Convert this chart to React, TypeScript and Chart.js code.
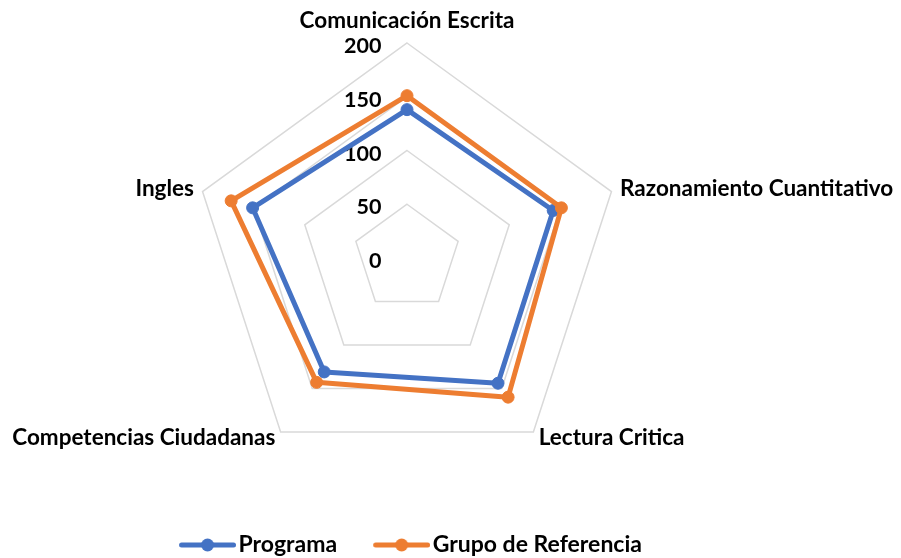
import React, { useEffect, useRef } from 'react';
import { Chart, registerables } from 'chart.js';

Chart.register(...registerables);

// ---- Data ----
const CATEGORIES = [
  'Comunicación Escrita',
  'Razonamiento Cuantitativo',
  'Lectura Critica',
  'Competencias Ciudadanas',
  'Ingles',
];
const PROGRAMA = [138, 143, 144, 131, 151];
const GRUPO_REFERENCIA = [151, 151, 160, 143, 172];
const SERIES_NAMES = ['Programa', 'Grupo de Referencia'];
const SCALE_MIN = 0;
const SCALE_MAX = 200;
const SCALE_STEP = 50;

// ---- Styles ----
const BLUE = '#4472C4';
const ORANGE = '#ED7D31';
const GRID = '#D9D9D9';
const FONT_FAMILY = "Lato, 'Open Sans', sans-serif";
const LABEL_SIZE = 22.5;
const TICK_SIZE = 21.5;
const LEGEND_SIZE = 23;

function makeLegendImage(color: string): HTMLCanvasElement {
  const c = document.createElement('canvas');
  c.width = 73;
  c.height = 16;
  const ctx = c.getContext('2d')!;
  ctx.strokeStyle = color;
  ctx.lineWidth = 5;
  ctx.lineCap = 'round';
  ctx.beginPath();
  ctx.moveTo(18.5, 8);
  ctx.lineTo(70.5, 8);
  ctx.stroke();
  ctx.fillStyle = color;
  ctx.beginPath();
  ctx.arc(44.5, 8, 6.5, 0, Math.PI * 2);
  ctx.fill();
  return c;
}

const excelLabels = {
  id: 'excelLabels',
  beforeDatasetsDraw(chart: any) {
    const scale = chart.scales.r;
    const ctx = chart.ctx as CanvasRenderingContext2D;
    ctx.save();
    ctx.fillStyle = '#000000';
    ctx.textBaseline = 'alphabetic';
    ctx.font = `bold ${TICK_SIZE}px ${FONT_FAMILY}`;
    ctx.textAlign = 'right';
    scale.ticks.forEach((t: any) => {
      const r = scale.getDistanceFromCenterForValue(t.value);
      ctx.fillText(String(t.label), scale.xCenter - 25.5, scale.yCenter - r + 10);
    });
    ctx.font = `bold ${LABEL_SIZE}px ${FONT_FAMILY}`;
    const n = CATEGORIES.length;
    CATEGORIES.forEach((label, i) => {
      const pos = scale.getPointPosition(i, scale.drawingArea + 9);
      const deg = ((i * 360) / n) % 360;
      let align: CanvasTextAlign;
      let dy: number;
      if (deg === 0) {
        align = 'center';
        dy = -6;
      } else if (deg === 180) {
        align = 'center';
        dy = 20;
      } else {
        align = deg < 180 ? 'left' : 'right';
        dy = deg < 90 || deg > 270 ? 7.5 : 5.5;
      }
      ctx.textAlign = align;
      ctx.fillText(label, pos.x, pos.y + dy);
    });
    ctx.restore();
  },
};

export default function App() {
  const ref = useRef<HTMLCanvasElement>(null);

  useEffect(() => {
    const legendImages = [makeLegendImage(BLUE), makeLegendImage(ORANGE)];
    const chart = new Chart(ref.current!, {
      type: 'radar',
      data: {
        labels: CATEGORIES,
        datasets: [
          {
            label: SERIES_NAMES[0],
            data: PROGRAMA,
            borderColor: BLUE,
            backgroundColor: BLUE,
            pointBackgroundColor: BLUE,
            pointBorderColor: BLUE,
            borderWidth: 5,
            pointRadius: 6,
            pointBorderWidth: 1,
            borderJoinStyle: 'round',
            fill: false,
            order: 1,
          },
          {
            label: SERIES_NAMES[1],
            data: GRUPO_REFERENCIA,
            borderColor: ORANGE,
            backgroundColor: ORANGE,
            pointBackgroundColor: ORANGE,
            pointBorderColor: ORANGE,
            borderWidth: 5,
            pointRadius: 6,
            pointBorderWidth: 1,
            borderJoinStyle: 'round',
            fill: false,
            order: 0,
          },
        ],
      },
      options: {
        responsive: true,
        maintainAspectRatio: false,
        animation: false,
        layout: { padding: { top: 43, left: 0, right: 87, bottom: -8.5 } },
        scales: {
          r: {
            min: SCALE_MIN,
            max: SCALE_MAX,
            ticks: { display: false, stepSize: SCALE_STEP },
            grid: { color: GRID, lineWidth: 1.5 },
            angleLines: { display: false },
            pointLabels: { display: false },
          },
        },
        elements: { line: { tension: 0 } },
        plugins: {
          tooltip: { enabled: false },
          legend: {
            position: 'bottom',
            title: {
              display: true,
              text: ' ',
              padding: { top: 10, bottom: 9.5 },
              font: { size: 10 },
            },
            labels: {
              usePointStyle: true,
              pointStyleWidth: 55,
              padding: 29,
              color: '#000000',
              font: { family: FONT_FAMILY, size: LEGEND_SIZE, weight: 'bold' },
              sort: (a: any, b: any) => a.datasetIndex - b.datasetIndex,
              generateLabels: (ch: any) => {
                const items = (Chart as any).defaults.plugins.legend.labels.generateLabels(ch);
                items.forEach((it: any) => {
                  it.pointStyle = legendImages[it.datasetIndex];
                });
                return items;
              },
            },
          },
        },
      },
      plugins: [excelLabels],
    } as any);
    return () => chart.destroy();
  }, []);

  return (
    <div style={{ position: 'absolute', left: 0, top: 0, width: 901, height: 558 }}>
      <canvas ref={ref} />
    </div>
  );
}
